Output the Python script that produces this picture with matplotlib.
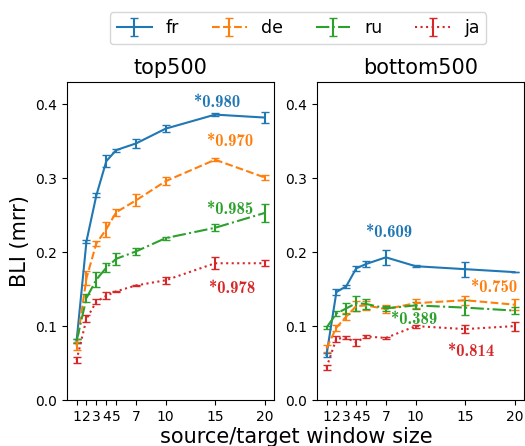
import matplotlib
matplotlib.use("Agg")
import matplotlib.pyplot as plt
import numpy as np

# window sizes
windows = [1, 2, 3, 4, 5, 7, 10, 15, 20]
langs = ["fr", "de", "ru", "ja"]

# top500 means / std
top_fr = [0.080, 0.215, 0.277, 0.323, 0.338, 0.347, 0.367, 0.386, 0.382]
top_de = [0.073, 0.165, 0.212, 0.231, 0.254, 0.270, 0.296, 0.325, 0.301]
top_ru = [0.080, 0.138, 0.163, 0.179, 0.191, 0.201, 0.219, 0.233, 0.253]
top_ja = [0.054, 0.110, 0.133, 0.141, 0.147, 0.155, 0.162, 0.185, 0.185]
top_fr_err = [0.003, 0.002, 0.003, 0.008, 0.002, 0.006, 0.005, 0.002, 0.007]
top_de_err = [0.005, 0.009, 0.003, 0.010, 0.005, 0.008, 0.005, 0.002, 0.003]
top_ru_err = [0.003, 0.006, 0.010, 0.006, 0.008, 0.005, 0.002, 0.005, 0.012]
top_ja_err = [0.004, 0.005, 0.003, 0.005, 0.001, 0.001, 0.005, 0.008, 0.004]

# bottom500 means / std
bot_fr = [0.061, 0.146, 0.154, 0.178, 0.184, 0.193, 0.181, 0.177, 0.173]
bot_de = [0.070, 0.098, 0.113, 0.127, 0.128, 0.123, 0.131, 0.135, 0.129]
bot_ru = [0.098, 0.117, 0.124, 0.131, 0.130, 0.124, 0.128, 0.125, 0.121]
bot_ja = [0.044, 0.083, 0.084, 0.078, 0.086, 0.084, 0.100, 0.096, 0.100]
bot_fr_err = [0.003, 0.004, 0.002, 0.003, 0.004, 0.010, 0.001, 0.010, 0.000]
bot_de_err = [0.005, 0.004, 0.005, 0.007, 0.006, 0.005, 0.006, 0.006, 0.007]
bot_ru_err = [0.002, 0.003, 0.007, 0.010, 0.007, 0.003, 0.005, 0.010, 0.005]
bot_ja_err = [0.004, 0.004, 0.002, 0.005, 0.002, 0.001, 0.002, 0.005, 0.006]

# correlation annotations: (text, x, y)
top_notes = [("*0.980", 15.2, 0.403), ("*0.970", 16.5, 0.350),
             ("*0.985", 16.5, 0.258), ("*0.978", 16.7, 0.151)]
bot_notes = [("*0.609", 7.3, 0.227), ("*0.750", 17.9, 0.152),
             ("*0.389", 9.9, 0.109), ("*0.814", 15.6, 0.066)]

colors = ["#1f77b4", "#ff7f0e", "#2ca02c", "#d62728"]
styles = ["-", "--", "-.", ":"]

fig = plt.figure(figsize=(5.25, 4.46), dpi=100)
ax1 = fig.add_axes([0.128, 0.103, 0.394, 0.713])
ax2 = fig.add_axes([0.604, 0.103, 0.394, 0.713])

panels = [
    (ax1, "top500", [top_fr, top_de, top_ru, top_ja],
     [top_fr_err, top_de_err, top_ru_err, top_ja_err], top_notes),
    (ax2, "bottom500", [bot_fr, bot_de, bot_ru, bot_ja],
     [bot_fr_err, bot_de_err, bot_ru_err, bot_ja_err], bot_notes),
]

for ax, title, means, errs, notes in panels:
    for i, lang in enumerate(langs):
        ax.errorbar(windows, means[i], yerr=errs[i], color=colors[i],
                    linestyle=styles[i], capsize=3, linewidth=1.5, label=lang)
    for i, (txt, x, y) in enumerate(notes):
        ax.text(x, y, txt, color=colors[i], fontsize=12, family="cmb10",
                ha="center", va="center")
    ax.set_title(title, fontsize=15)
    ax.set_ylim(0, 0.43)
    ax.set_yticks([0.0, 0.1, 0.2, 0.3, 0.4])
    ax.set_xticks(windows)
    ax.tick_params(labelsize=10)

ax1.set_ylabel("BLI (mrr)", fontsize=15)
fig.text(0.564, 0.007, "source/target window size", fontsize=15,
         ha="center", va="baseline")

handles, labels = ax1.get_legend_handles_labels()
fig.legend(handles, labels, loc="upper center", bbox_to_anchor=(0.568, 0.992),
           ncol=4, fontsize=12.5, columnspacing=1.9)

fig.savefig("out.png", dpi=100)
